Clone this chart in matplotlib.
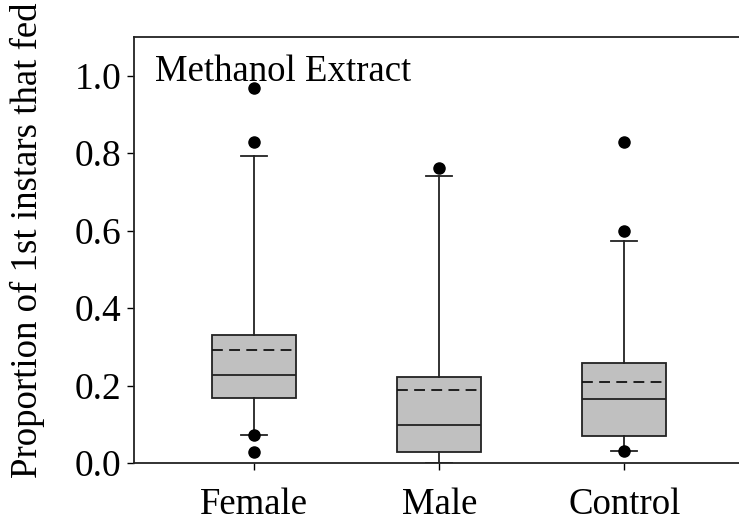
import matplotlib.pyplot as plt

plt.rcParams['font.family'] = ['Liberation Serif', 'DejaVu Serif']

# Summary statistics for each group (proportion of 1st instars that fed)
groups = ["Female", "Male", "Control"]
q1 = [0.168, 0.028, 0.069]
medians = [0.228, 0.097, 0.164]
q3 = [0.331, 0.221, 0.259]
means = [0.292, 0.189, 0.209]
whisk_lo = [0.072, 0.0, 0.031]
whisk_hi = [0.793, 0.740, 0.573]
outliers = [
    [0.029, 0.072, 0.830, 0.968],
    [0.762],
    [0.031, 0.599, 0.830],
]

stats = []
for i, name in enumerate(groups):
    stats.append({
        "label": name,
        "q1": q1[i],
        "med": medians[i],
        "q3": q3[i],
        "mean": means[i],
        "whislo": whisk_lo[i],
        "whishi": whisk_hi[i],
        "fliers": outliers[i],
    })

fig = plt.figure(figsize=(7.39, 5.27), dpi=100)
ax = fig.add_axes([134 / 739, 1 - 463 / 527, 1 - 134 / 739, (463 - 37) / 527])

lw = 1.3
ax.bxp(
    stats,
    positions=[1, 2, 3],
    widths=0.454,
    capwidths=0.14,
    patch_artist=True,
    showmeans=True,
    meanline=True,
    boxprops=dict(facecolor="#c0c0c0", edgecolor="#222222", linewidth=lw),
    medianprops=dict(color="#222222", linewidth=lw),
    meanprops=dict(color="#111111", linestyle=(0, (6, 3.5)), linewidth=lw),
    whiskerprops=dict(color="#222222", linewidth=lw),
    capprops=dict(color="#222222", linewidth=lw),
    flierprops=dict(marker="o", markerfacecolor="black", markeredgecolor="black",
                    markersize=8),
)

ax.set_xlim(0.35, 3.62)
ax.set_ylim(0, 1.1)
ax.set_yticks([0.0, 0.2, 0.4, 0.6, 0.8, 1.0])
ax.set_yticklabels(["0.0", "0.2", "0.4", "0.6", "0.8", "1.0"])
ax.set_xticks([1, 2, 3])
ax.set_xticklabels(groups)

ax.spines["right"].set_visible(False)
for s in ["left", "bottom", "top"]:
    ax.spines[s].set_linewidth(1.3)
    ax.spines[s].set_color("#222222")

ax.tick_params(axis="y", direction="out", length=5, width=1, labelsize=27, pad=4)
ax.tick_params(axis="x", direction="out", length=5, width=1, labelsize=26.5, pad=13)

ax.set_ylabel("Proportion of 1st instars that fed", fontsize=26.5)
ax.yaxis.set_label_coords(-0.147, 0.5235)
ax.text(0.035, 0.958, "Methanol Extract", transform=ax.transAxes,
        fontsize=26.5, va="top", ha="left")

fig.savefig("out.png", dpi=100)
